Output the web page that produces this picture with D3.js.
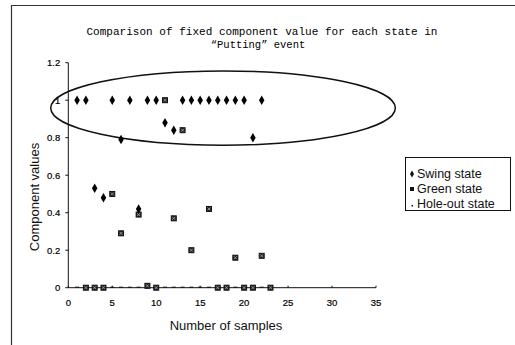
<!DOCTYPE html>
<html><head><meta charset="utf-8">
<script src="https://cdn.jsdelivr.net/npm/d3@7"></script>
<style>body{margin:0;background:#fff}svg{display:block}</style>
</head><body>
<script>
const samples = d3.range(1, 24);
const swing = [1,1,0.53,0.48,1,0.79,1,0.42,1,1,0.88,0.84,1,1,1,1,1,1,1,1,0.80,1,null];
const green = [null,0,0,0,0.5,0.29,null,0.39,0.01,0,1,0.37,0.84,0.2,null,0.42,0,0,0.16,0,0,0.17,0];
const holeOut = [0,0,0,0,0,0,0,0,0,0,0,0,0,0,0,0,0,0,0,0,0,0,0];
const xTicks = [0,5,10,15,20,25,30,35];
const yTicks = [0,0.2,0.4,0.6,0.8,1,1.2];
const titleLines = ["Comparison of fixed component value for each state in", "\u201cPutting\u201d event"];
const legendLabels = ["Swing state","Green state","Hole-out state"];

const W = 515, H = 345;
const svg = d3.select("body").append("svg").attr("width", W).attr("height", H);
svg.append("rect").attr("width", W).attr("height", H).attr("fill", "#fff");
svg.append("path").attr("d", `M11.5,${H+2} V5.5 H${W+2}`).attr("fill","none").attr("stroke","#333").attr("stroke-width",1.2);

const x = d3.scaleLinear().domain([0,35]).range([68.3,376]);
const y = d3.scaleLinear().domain([0,1.2]).range([287.7,62.7]);

const tt = svg.append("text").attr("font-family","'Liberation Mono', 'DejaVu Sans Mono', monospace").attr("font-size",10.5).attr("fill","#000").attr("text-anchor","middle");
tt.append("tspan").attr("x",262).attr("y",35).attr("textLength",351).attr("lengthAdjust","spacingAndGlyphs").text(titleLines[0]);
tt.append("tspan").attr("x",258).attr("y",48).text(titleLines[1]);

const axisG = svg.append("g");
axisG.append("line").attr("x1",x(0)).attr("x2",x(0)).attr("y1",y(0)).attr("y2",y(1.2)).attr("stroke","#111");
axisG.append("line").attr("x1",x(0)).attr("x2",x(35)).attr("y1",y(0)).attr("y2",y(0)).attr("stroke","#111");
yTicks.forEach(t => {
  axisG.append("line").attr("x1",x(0)-3).attr("x2",x(0)).attr("y1",y(t)).attr("y2",y(t)).attr("stroke","#111");
  axisG.append("text").attr("x",x(0)-8).attr("y",y(t)+3.5).attr("text-anchor","end")
    .attr("font-family","'Liberation Sans Narrow','Liberation Sans',sans-serif").attr("font-size",9.5).attr("fill","#000").attr("stroke","#000").attr("stroke-width",0.2)
    .text(t===0?"0":(t===1?"1":d3.format(".1f")(t)));
});
xTicks.forEach(t => {
  axisG.append("line").attr("x1",x(t)).attr("x2",x(t)).attr("y1",y(0)).attr("y2",y(0)-2).attr("stroke","#111");
  axisG.append("text").attr("x",x(t)).attr("y",306).attr("text-anchor","middle")
    .attr("font-family","'Liberation Sans Narrow','Liberation Sans',sans-serif").attr("font-size",9.5).attr("fill","#000").attr("stroke","#000").attr("stroke-width",0.2)
    .text(t);
});
svg.append("text").attr("transform",`translate(39,197) rotate(-90)`).attr("text-anchor","middle")
  .attr("font-family","'Liberation Sans',Arial,sans-serif").attr("font-size",13).attr("fill","#111").text("Component values");
svg.append("text").attr("x",226).attr("y",330).attr("text-anchor","middle")
  .attr("font-family","'Liberation Sans',Arial,sans-serif").attr("font-size",13).attr("fill","#111").text("Number of samples");

svg.append("ellipse").attr("cx",x(17.6)).attr("cy",y(0.958)).attr("rx",x(17.6)-x(-2)).attr("ry",y(0.76)-y(0.958))
  .attr("fill","none").attr("stroke","#111").attr("stroke-width",1.5);

const diamond = d3.symbol().type(d3.symbolDiamond).size(26);
const plot = svg.append("g");
plot.selectAll(".h").data(samples.map((s,i)=>({s,v:holeOut[i]})).filter(d=>d.v!=null)).enter()
  .append("line").attr("x1",d=>x(d.s)-2).attr("x2",d=>x(d.s)+2).attr("y1",d=>y(d.v)-0.5).attr("y2",d=>y(d.v)-0.5)
  .attr("stroke","#111").attr("stroke-width",1);
const gData = samples.map((s,i)=>({s,v:green[i]})).filter(d=>d.v!=null);
const gg = plot.selectAll(".g").data(gData).enter().append("g").attr("transform",d=>`translate(${x(d.s)},${y(d.v)})`);
gg.append("rect").attr("x",-2.5).attr("y",-2.5).attr("width",5).attr("height",5).attr("fill","#222").attr("stroke","#111").attr("stroke-width",1);
gg.append("path").attr("d","M-1.5,-1.5L1.5,1.5M-1.5,1.5L1.5,-1.5").attr("stroke","#bbb").attr("stroke-width",0.7);
plot.selectAll(".s").data(samples.map((s,i)=>({s,v:swing[i]})).filter(d=>d.v!=null)).enter()
  .append("path").attr("d",diamond).attr("transform",d=>`translate(${x(d.s)},${y(d.v)})`).attr("fill","#000");

const lg = svg.append("g");
lg.append("rect").attr("x",405.5).attr("y",157.5).attr("width",105).attr("height",53).attr("fill","#fff").attr("stroke","#111");
legendLabels.forEach((l,i)=>{
  const cy = 173 + i*15;
  lg.append("text").attr("x",417).attr("y",cy+4.5).attr("font-family","'Liberation Sans',Arial,sans-serif").attr("font-size",12.5).attr("fill","#111").text(l);
  if(i===0) lg.append("path").attr("d",d3.symbol().type(d3.symbolDiamond).size(14)).attr("transform",`translate(412,${cy+1})`).attr("fill","#111");
  if(i===1){ lg.append("rect").attr("x",410).attr("y",cy-1).attr("width",4).attr("height",4).attr("fill","#111"); }
  if(i===2) lg.append("rect").attr("x",411.5).attr("y",cy+2).attr("width",1.5).attr("height",1.5).attr("fill","#111");
});
</script>
</body></html>
